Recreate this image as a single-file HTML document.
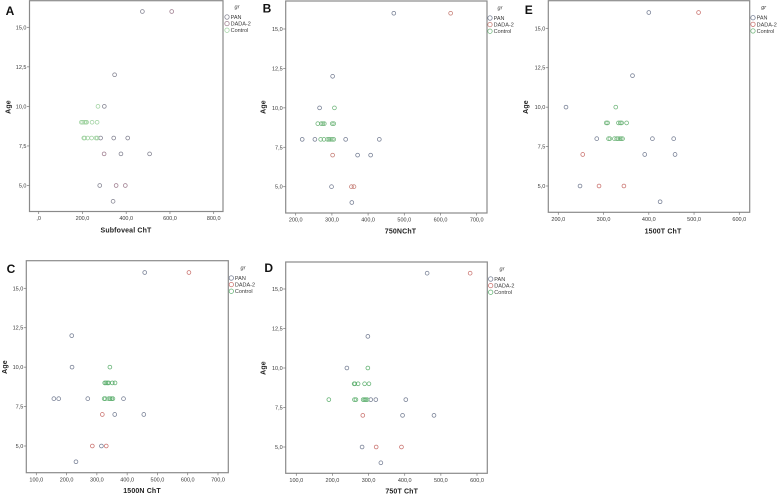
<!DOCTYPE html>
<html lang="en">
<head>
<meta charset="utf-8">
<title>Choroidal thickness vs age scatter panels</title>
<style>
html,body{margin:0;padding:0;background:#fff;}
#figure{display:block;width:778px;height:495px;filter:blur(0.35px);}
text{font-family:"Liberation Sans",sans-serif;fill:#3a3a3a;}
.tick{font-size:5.5px;}
.title{font-size:7px;font-weight:bold;fill:#222;letter-spacing:.15px;}
.leg{font-size:5.5px;}
.letter{font-size:12px;font-weight:bold;fill:#111;}
</style>
</head>
<body>
<svg id="figure" width="778" height="495" viewBox="0 0 778 495" xmlns="http://www.w3.org/2000/svg"></svg>
<script>
const groupNames = ["PAN", "DADA-2", "Control"];
const legendTitle = "gr";
const yAxisTitle = "Age";
const yTickValues = [5, 7.5, 10, 12.5, 15];

/* Panel A: Subfoveal ChT */
const aTicks = [0, 200, 400, 600, 800];
const aPanValues = [474, 347, 300, 283, 343, 407, 376, 507, 279, 340];
const aPanAges = [16, 12, 10, 8, 8, 8, 7, 7, 5, 4];
const aDadaValues = [608, 299, 354, 396];
const aDadaAges = [16, 7, 5, 5];
const aControlValues = [271, 195, 201, 210, 216, 219, 244, 267, 206, 210, 224, 242, 262, 268];
const aControlAges = [10, 9, 9, 9, 9, 9, 9, 9, 8, 8, 8, 8, 8, 8];

/* Panel B: 750NChT */
const bTicks = [200, 300, 400, 500, 600, 700];
const bPanValues = [471, 302, 266, 218, 253, 338, 431, 371, 407, 299, 355];
const bPanAges = [16, 12, 10, 8, 8, 8, 8, 7, 7, 5, 4];
const bDadaValues = [628, 302, 354, 361];
const bDadaAges = [16, 7, 5, 5];
const bControlValues = [307, 261, 271, 275, 279, 301, 305, 269, 278, 288, 292, 296, 301, 305];
const bControlAges = [10, 9, 9, 9, 9, 9, 9, 8, 8, 8, 8, 8, 8, 8];

/* Panel E: 1500T ChT */
const eTicks = [200, 300, 400, 500, 600];
const ePanValues = [400, 364, 217, 285, 408, 455, 391, 458, 248, 425];
const ePanAges = [16, 12, 10, 8, 8, 8, 7, 7, 5, 4];
const eDadaValues = [510, 254, 290, 345];
const eDadaAges = [16, 7, 5, 5];
const eControlValues = [327, 306, 309, 333, 337, 340, 351, 311, 314, 324, 329, 332, 336, 339, 342];
const eControlAges = [10, 9, 9, 9, 9, 9, 9, 8, 8, 8, 8, 8, 8, 8, 8];

/* Panel C: 1500N ChT */
const cTicks = [100, 200, 300, 400, 500, 600, 700];
const cPanValues = [458, 217, 218, 158, 174, 270, 388, 359, 455, 315, 231];
const cPanAges = [16, 12, 10, 8, 8, 8, 8, 7, 7, 5, 4];
const cDadaValues = [604, 318, 285, 331];
const cDadaAges = [16, 7, 5, 5];
const cControlValues = [343, 326, 330, 335, 339, 351, 360, 324, 328, 339, 344, 349, 353];
const cControlAges = [10, 9, 9, 9, 9, 9, 9, 8, 8, 8, 8, 8, 8];

/* Panel D: 750T ChT */
const dTicks = [100, 200, 300, 400, 500, 600];
const dPanValues = [462, 298, 240, 306, 320, 403, 394, 481, 282, 334];
const dPanAges = [16, 12, 10, 8, 8, 8, 7, 7, 5, 4];
const dDadaValues = [581, 284, 321, 391];
const dDadaAges = [16, 7, 5, 5];
const dControlValues = [298, 260, 262, 271, 289, 301, 190, 261, 265, 285, 289, 292, 296];
const dControlAges = [10, 9, 9, 9, 9, 9, 8, 8, 8, 8, 8, 8, 8];

const NS = "http://www.w3.org/2000/svg";
const root = document.getElementById("figure");

function make(tag, attrs, parent, txt) {
  const el = document.createElementNS(NS, tag);
  for (const k in attrs) el.setAttribute(k, attrs[k]);
  if (txt !== undefined) el.textContent = txt;
  parent.appendChild(el);
  return el;
}

function fmt(v) {
  const s = v.toFixed(1).replace(".", ",");
  return v === 0 ? ",0" : s;
}

const panels = [
  {id:"a", letter:"A", lx:10, ly:15, box:[29.5,0.7,223,211.5], x0:38.7, x1:213.7, y15:27.3, y5:185.5,
   title:"Subfoveal ChT", tx:126, ty:232.5, ax:8, ay:107, lgx:227, lgy:17, lgTx:237,
   ticks:aTicks, series:[[aPanValues,aPanAges],[aDadaValues,aDadaAges],[aControlValues,aControlAges]],
   colors:["#80808f","#9c7a8c","#9fd2a0"]},
  {id:"b", letter:"B", lx:267, ly:12.5, box:[285.7,1,487,213], x0:295.7, x1:476.7, y15:29, y5:186.7,
   title:"750NChT", tx:400.5, ty:233.5, ax:263, ay:107, lgx:490, lgy:18, lgTx:500,
   ticks:bTicks, series:[[bPanValues,bPanAges],[bDadaValues,bDadaAges],[bControlValues,bControlAges]],
   colors:["#737c92","#c47a72","#6fb57a"]},
  {id:"e", letter:"E", lx:528.7, ly:14, box:[548.3,0.7,749.7,212.3], x0:558.3, x1:739.3, y15:28.3, y5:186,
   title:"1500T ChT", tx:663, ty:233.5, ax:525.7, ay:107, lgx:753, lgy:17.7, lgTx:763.7,
   ticks:eTicks, series:[[ePanValues,ePanAges],[eDadaValues,eDadaAges],[eControlValues,eControlAges]],
   colors:["#737c92","#c9706c","#6fb57a"]},
  {id:"c", letter:"C", lx:11, ly:273, box:[26.3,260.7,228.3,472.7], x0:36.3, x1:218, y15:288.3, y5:446,
   title:"1500N ChT", tx:142, ty:493, ax:4.7, ay:367, lgx:231.3, lgy:278, lgTx:243,
   ticks:cTicks, series:[[cPanValues,cPanAges],[cDadaValues,cDadaAges],[cControlValues,cControlAges]],
   colors:["#737c92","#c9706c","#5fb070"]},
  {id:"d", letter:"D", lx:268.7, ly:272, box:[285.7,262,487.3,473.3], x0:296.3, x1:477, y15:289, y5:447,
   title:"750T ChT", tx:401.7, ty:493.5, ax:263, ay:368, lgx:490.7, lgy:279, lgTx:502,
   ticks:dTicks, series:[[dPanValues,dPanAges],[dDadaValues,dDadaAges],[dControlValues,dControlAges]],
   colors:["#737c92","#c9706c","#5fb070"]}
];

panels.forEach(function (p) {
  const g = make("g", {}, root);
  
  

  const tMin = p.ticks[0], tMax = p.ticks[p.ticks.length - 1];
  const xScale = function (v) { return p.x0 + (v - tMin) * (p.x1 - p.x0) / (tMax - tMin); };
  const yScale = function (a) { return p.y5 + (a - 5) * (p.y15 - p.y5) / 10; };
  const [l, t, r, b] = p.box;

  const letter = make("text", {x:p.lx, y:p.ly, class:"letter", "text-anchor":"middle"}, g, p.letter);
  
  

  const frame = make("rect", {x:l, y:t, width:r-l, height:b-t, fill:"#fff", stroke:"#8a8a8a", "stroke-width":1.2}, g);
  
  

  p.ticks.forEach(function (v) {
    const x = xScale(v);
    const tick = make("line", {x1:x, x2:x, y1:b, y2:b+2.5, stroke:"#777", "stroke-width":0.7}, g);
    
    
    const lab = make("text", {x:x, y:b+8.7, class:"tick", "text-anchor":"middle"}, g, fmt(v));
    
    
  });

  yTickValues.forEach(function (v) {
    const y = yScale(v);
    const tick = make("line", {x1:l-2.5, x2:l, y1:y, y2:y, stroke:"#777", "stroke-width":0.7}, g);
    
    
    const lab = make("text", {x:l-3, y:y+2, class:"tick", "text-anchor":"end"}, g, fmt(v));
    
    
  });

  const xt = make("text", {x:p.tx, y:p.ty, class:"title", "text-anchor":"middle"}, g, p.title);
  
  

  const yt = make("text", {x:0, y:0, class:"title", "text-anchor":"middle", transform:"translate(" + (p.ax + 2.5) + "," + p.ay + ") rotate(-90)"}, g, yAxisTitle);
  
  

  p.series.forEach(function (s, i) {
    s[0].forEach(function (v, j) {
      const pt = make("circle", {cx:xScale(v), cy:yScale(s[1][j]), r:1.9, fill:"none", stroke:p.colors[i], "stroke-width":0.75}, g);
      
      
    });
  });

  const lt = make("text", {x:p.lgTx, y:p.lgy - 8.5, class:"leg", "text-anchor":"middle", "font-style":"italic"}, g, legendTitle);
  
  

  groupNames.forEach(function (name, i) {
    const y = p.lgy + i * 6.6;
    const sw = make("circle", {cx:p.lgx, cy:y, r:2.2, fill:"none", stroke:p.colors[i], "stroke-width":0.75}, g);
    
    
    const tx = make("text", {x:p.lgx + 3.6, y:y + 2, class:"leg"}, g, name);
    
    
  });
});
</script>
</body>
</html>
